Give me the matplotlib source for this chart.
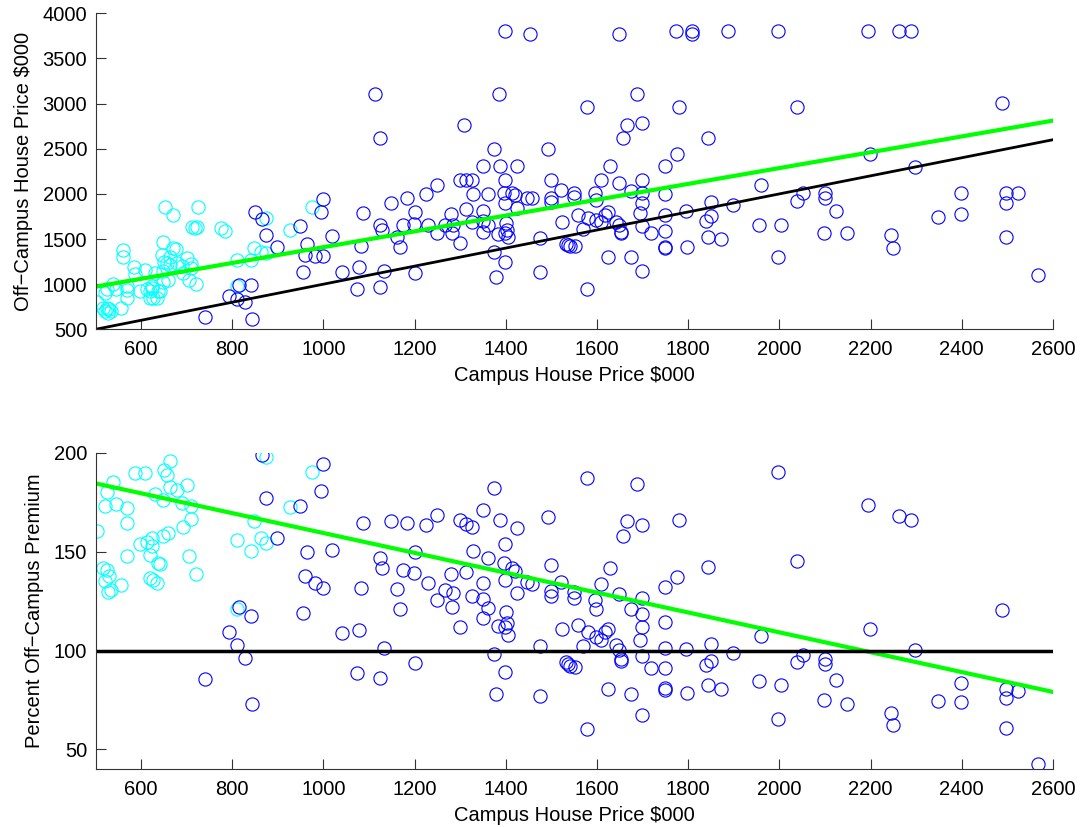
import matplotlib.pyplot as plt
import numpy as np

plt.rcParams['font.family'] = ['Liberation Sans', 'DejaVu Sans']

# cyan group: campus price vs off-campus price ($000)
cyan_campus = [663, 587, 609, 650, 657, 539, 525, 521, 545, 570, 568, 630, 649, 663,
               679, 700, 689, 709, 709, 693, 598, 612, 623, 623, 649, 658, 620, 570,
               705, 720, 638, 642, 620, 627, 634, 517, 525, 530, 521, 528, 535, 555,
               503, 810, 840, 848, 864, 875, 875, 926, 974, 810,
               653, 670, 724, 711, 718, 723, 775, 785, 649, 669, 677, 560, 560, 584, 645]
cyan_offcampus = [1297, 1115, 1157, 1242, 1240, 997, 945, 901, 950, 980, 935, 1128, 1142, 1212,
                  1230, 1286, 1202, 1227, 1179, 1125, 919, 949, 977, 953, 1025, 1048, 919, 842,
                  1042, 999, 919, 923, 846, 851, 852, 732, 740, 730, 703, 683, 699, 739,
                  806, 1264, 1263, 1405, 1354, 1349, 1733, 1596, 1851, 979,
                  1851, 1766, 1851, 1636, 1625, 1628, 1625, 1588, 1470, 1404, 1385, 1378, 1297, 1193, 1323]

# blue group
blue_campus = [849, 865, 874, 899, 949, 963, 960, 982, 1000, 999, 994, 1019, 954, 815,
               842, 793, 810, 828, 740, 844,
               1398, 1452, 1113, 1384, 1124, 1308, 1374, 1493, 1349, 1387, 1424, 1299, 1312,
               1325, 1399, 1499, 1520, 1249, 1224, 1184, 1149, 1087, 1200, 1329, 1361, 1396,
               1414, 1419, 1447, 1458, 1498, 1499, 1398, 1424, 1313, 1349, 1279, 1524, 1124,
               1129, 1175, 1199, 1230, 1266, 1284, 1281, 1250, 1325, 1349, 1361, 1349, 1401,
               1383, 1398, 1402, 1405, 1082, 1162, 1168, 1299, 1374, 1474, 1533, 1540, 1399,
               1079, 1040, 1133, 1200, 1073, 1124, 1379, 1474,
               1649, 1774, 1809, 1809, 1888, 1997, 1579, 1687, 1780, 2038, 1665, 1699, 1658,
               1843, 1775, 1750, 1629, 1609, 1649, 1699, 1674, 1699, 1699, 1748, 1959, 1549,
               1550, 1595, 1598, 1849, 1899, 2038, 2051, 1796, 1840, 1849, 1558, 1580, 1569,
               1598, 1609, 1617, 1624, 1642, 1653, 1653, 1694, 1699, 1719, 1748, 1748, 1748,
               1748, 1798, 1843, 1872, 1956, 2004, 1536, 1551, 1623, 1674, 1699, 1579, 1997, 1648,
               2194, 2263, 2289, 2488, 2199, 2298, 2099, 2099, 2123, 2398, 2497, 2523, 2497,
               2398, 2347, 2098, 2149, 2244, 2249, 2497, 2568]
blue_offcampus = [1799, 1718, 1548, 1411, 1644, 1441, 1323, 1315, 1315, 1943, 1795, 1537, 1134, 994,
                  990, 869, 832, 798, 632, 617,
                  3804, 3774, 3106, 3106, 2619, 2762, 2500, 2500, 2305, 2305, 2305, 2153, 2153,
                  2153, 2150, 2150, 2043, 2102, 1998, 1950, 1899, 1788, 1799, 1998, 1998, 2013,
                  2006, 1987, 1950, 1950, 1950, 1913, 1895, 1839, 1832, 1810, 1773, 1692, 1651,
                  1600, 1651, 1666, 1651, 1655, 1655, 1563, 1570, 1692, 1699, 1655, 1574, 1673,
                  1555, 1563, 1600, 1518, 1426, 1526, 1415, 1452, 1352, 1507, 1445, 1423, 1249,
                  1190, 1131, 1145, 1127, 950, 968, 1075, 1134,
                  3774, 3804, 3804, 3774, 3804, 3804, 2958, 3106, 2958, 2958, 2759, 2781, 2619,
                  2619, 2438, 2308, 2308, 2150, 2124, 2150, 2028, 2013, 1902, 1998, 2102, 2006,
                  1961, 2006, 1932, 1910, 1876, 1921, 2006, 1814, 1703, 1755, 1762, 1729, 1607,
                  1710, 1692, 1766, 1803, 1692, 1581, 1563, 1784, 1648, 1570, 1769, 1592, 1415,
                  1396, 1415, 1518, 1504, 1651, 1651, 1434, 1422, 1304, 1304, 1149, 950, 1304, 1653,
                  3804, 3804, 3804, 3002, 2441, 2301, 2013, 1954, 1806, 2006, 2006, 2006, 1902,
                  1773, 1743, 1570, 1570, 1541, 1404, 1526, 1101]

x_ticks = list(range(600, 2601, 200))
top_y_ticks = list(range(500, 4001, 500))
bottom_y_ticks = [50, 100, 150, 200]

# fitted lines (intercept, slope)
top_fit = (534.0, 0.876)
bottom_fit = (209.6, -0.0502)

cyan_campus = np.array(cyan_campus, float)
cyan_offcampus = np.array(cyan_offcampus, float)
blue_campus = np.array(blue_campus, float)
blue_offcampus = np.array(blue_offcampus, float)
cyan_pct = cyan_offcampus / cyan_campus * 100
blue_pct = blue_offcampus / blue_campus * 100
# points beyond the axis limit are not drawn at all (no half markers at the edge)
cyan_pct[cyan_pct > 200] = np.nan
blue_pct[blue_pct > 200] = np.nan

fig = plt.figure(figsize=(10.84, 8.27), dpi=100)
ax1 = fig.add_axes([0.0881, 0.6018, 0.8833, 0.3821])
ax2 = fig.add_axes([0.0881, 0.0698, 0.8833, 0.3828])

xl = np.array([500, 2600])
mk = dict(marker='o', linestyle='none', markerfacecolor='none', markersize=9.5,
          markeredgewidth=0.8)

ax1.plot(cyan_campus, cyan_offcampus, markeredgecolor='cyan', **mk)
ax1.plot(blue_campus, blue_offcampus, markeredgecolor='blue', **mk)
ax1.plot(xl, top_fit[0] + top_fit[1] * xl, color='#00ff00', lw=3)
ax1.plot(xl, xl, color='black', lw=2)
ax1.set_ylim(500, 4000)
ax1.set_yticks(top_y_ticks)
ax1.set_ylabel('Off\u2212Campus House Price $000', fontsize=14.5, labelpad=7)

ax2.plot(cyan_campus, cyan_pct, markeredgecolor='cyan', **mk)
ax2.plot(blue_campus, blue_pct, markeredgecolor='blue', **mk)
ax2.plot(xl, bottom_fit[0] + bottom_fit[1] * xl, color='#00ff00', lw=3)
ax2.plot(xl, [100, 100], color='black', lw=2.5)
ax2.set_ylim(40, 200)
ax2.set_yticks(bottom_y_ticks)
ax2.set_ylabel('Percent Off\u2212Campus Premium', fontsize=14.5, labelpad=7)

for ax in (ax1, ax2):
    ax.set_xlim(500, 2600)
    ax.set_xticks(x_ticks)
    ax.set_xlabel('Campus House Price $000', fontsize=14.5, labelpad=5)
    ax.spines['top'].set_visible(False)
    ax.spines['right'].set_visible(False)
    for s in ('left', 'bottom'):
        ax.spines[s].set_color('0.2')
        ax.spines[s].set_linewidth(0.8)
    ax.tick_params(direction='in', length=7, width=0.8, color='0.2',
                   labelsize=14.5, pad=6)
    ax.tick_params(axis='x', pad=8)

fig.savefig('out.png', dpi=100)
